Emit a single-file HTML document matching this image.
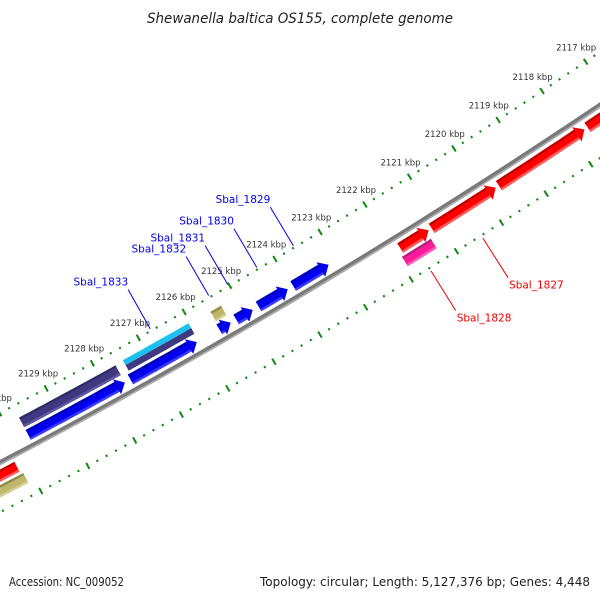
<!DOCTYPE html>
<html><head><meta charset="utf-8"><style>
html,body{margin:0;padding:0;background:#fff;}
svg{display:block;font-family:"DejaVu Sans","Liberation Sans",sans-serif;}
</style></head><body>
<svg id="map" width="600" height="600" viewBox="0 0 600 600" xmlns="http://www.w3.org/2000/svg">
<text x="300" y="23" text-anchor="middle" font-size="14" font-style="italic" fill="#222" textLength="306" lengthAdjust="spacingAndGlyphs">Shewanella baltica OS155, complete genome</text>
<text x="9" y="586" font-size="12.5" fill="#222" textLength="115" lengthAdjust="spacingAndGlyphs">Accession: NC_009052</text>
<text x="260" y="586" font-size="12.5" fill="#222" textLength="330" lengthAdjust="spacingAndGlyphs">Topology: circular; Length: 5,127,376 bp; Genes: 4,448</text>
<g id="rings"></g><g id="feats"></g><g id="labs"></g>
</svg>
<script>
// tick data (kbp)
const majorTicks = [2116,2117,2118,2119,2120,2121,2122,2123,2124,2125,2126,2127,2128,2129,2130,2131];
const tickLabels = ["2116 kbp","2117 kbp","2118 kbp","2119 kbp","2120 kbp","2121 kbp","2122 kbp","2123 kbp","2124 kbp","2125 kbp","2126 kbp","2127 kbp","2128 kbp","2129 kbp","2130 kbp","2131 kbp"];
const minorStep = 0.2;
// features: start kbp, end kbp, slot, arrowhead, color
const featStart = [2124.0,2124.76,2125.25,2125.62,2127.55,2129.75,2129.75,2127.5,2127.5,2125.6,2130.15,2130.1,2121.9,2121.2,2119.7,2117.7,2121.96];
const featEnd   = [2123.15,2124.05,2124.82,2125.3,2126.04,2127.6,2127.6,2126.0,2126.0,2125.3,2131.5,2131.5,2121.2,2119.7,2117.7,2116.3,2121.25];
const featSlot  = ["f1","f1","f1","f1","f1","f1","f2","f2b","f2a","f2","r1","r2","r1","r1","r1","r1","r2"];
const featHead  = [1,1,1,1,1,1,0,0,0,0,0,0,1,1,1,1,0];
const featColor = ["blue","blue","blue","blue","blue","blue","purple","purple","cyan","khaki","red","khaki","red","red","red","red","pink"];
const featNames = ["sbal-1829","sbal-1830","sbal-1831","sbal-1832","sbal-1833-a","gene-f","gene-g","gene-h","gene-h-cyan","gene-khaki","gene-red-left","gene-khaki-left","gene-red-r1","sbal-1827","gene-r3","gene-r4","sbal-1828"];
// gene labels
const labelText = ["Sbal_1829","Sbal_1830","Sbal_1831","Sbal_1832","Sbal_1833","Sbal_1827","Sbal_1828"];
const labelKbp  = [2123.57,2124.38,2125.02,2125.44,2126.72,2120.45,2121.6];
const labelSide = ["out","out","out","out","out","in","in"];

const NS="http://www.w3.org/2000/svg";
const P=[[0,413],[275,259],[542,91]];
function circ(a,b,c){const d=2*(a[0]*(b[1]-c[1])+b[0]*(c[1]-a[1])+c[0]*(a[1]-b[1]));
 const ux=((a[0]**2+a[1]**2)*(b[1]-c[1])+(b[0]**2+b[1]**2)*(c[1]-a[1])+(c[0]**2+c[1]**2)*(a[1]-b[1]))/d;
 const uy=((a[0]**2+a[1]**2)*(c[0]-b[0])+(b[0]**2+b[1]**2)*(a[0]-c[0])+(c[0]**2+c[1]**2)*(b[0]-a[0]))/d;return [ux,uy];}
const C=circ(P[0],P[1],P[2]);
const rOut=Math.hypot(P[1][0]-C[0],P[1][1]-C[1]);
const rB=rOut+44, rIn=rB+44;
const a24=Math.atan2(P[1][1]-C[1],P[1][0]-C[0]), a18=Math.atan2(P[2][1]-C[1],P[2][0]-C[0]);
function ang(k){return a24+(k-2124)*(a18-a24)/(2118-2124);}
function pt(k,r){const a=ang(k);return [C[0]+r*Math.cos(a),C[1]+r*Math.sin(a)];}
function el(tag,attrs,parent){const e=document.createElementNS(NS,tag);for(const k in attrs)e.setAttribute(k,attrs[k]);parent.appendChild(e);return e;}
const rings=document.getElementById('rings'),feats=document.getElementById('feats'),labs=document.getElementById('labs');
function arcPath(k0,k1,r){let s="";const n=40;for(let i=0;i<=n;i++){const p=pt(k0+(k1-k0)*i/n,r);s+=(i?"L":"M")+p[0].toFixed(1)+","+p[1].toFixed(1);}return s;}
let bb=el('path',{d:arcPath(2115,2132,rB),stroke:'#7a7a7a','stroke-width':5,fill:'none'},rings);


let bb2=el('path',{d:arcPath(2115,2132,rB+1.6),stroke:'#b0b0b0','stroke-width':1.4,fill:'none'},rings);


function drawRing(r,name,labels){
 for(let k=majorTicks[0];k<=majorTicks[majorTicks.length-1]+1e-6;k+=minorStep){
  const kk=Math.round(k*10)/10;const major=Math.abs(kk-Math.round(kk))<1e-6;
  const len=major?7:2.2;const p0=pt(kk,r-len/2),p1=pt(kk,r+len/2);
  const t=el('line',{x1:p0[0],y1:p0[1],x2:p1[0],y2:p1[1],stroke:'#118811','stroke-width':2},rings);
  
  
 }
 if(labels){majorTicks.forEach((k,i)=>{const p=pt(k,r-17);
  const tx=el('text',{x:p[0],y:p[1]+3,'text-anchor':'middle','font-size':'8.5',fill:'#333'},labs);tx.textContent=tickLabels[i];
  
  });}
}
drawRing(rOut,'outer-ruler',true);
drawRing(rIn,'inner-ruler',false);
const slots={f1:[rB-17,rB-6],f2:[rB-31,rB-20],f2a:[rB-32,rB-26.5],f2b:[rB-26.5,rB-20],r1:[rB+6,rB+17],r2:[rB+20,rB+31]};
const cols={blue:['#0000ee','#3a3aff','#0000b0'],purple:['#3f3a80','#5e58a0','#2e2a66'],cyan:['#1ec0f0','#1ec0f0','#15a8d8'],khaki:['#bdb76b','#d4cf90','#8f8a45'],red:['#ff0000','#ff5a5a','#c00000'],pink:['#ff1a9a','#ff5cbc','#b0207a']};
const GAP=0.035, HL=0.17;
function featPoly(k0,k1,r0,r1,head,stop){const rm=(r0+r1)/2;const dirK=k1>k0?1:-1;
 const kb=head?k1-dirK*HL:(stop!==undefined?stop:k1);const pts=[];const n=20;
 for(let i=0;i<=n;i++)pts.push(pt(k0+(kb-k0)*i/n,r0));
 if(head){pts.push(pt(kb,r0-3));pts.push(pt(k1,rm));pts.push(pt(kb,r1+3));}
 for(let i=n;i>=0;i--)pts.push(pt(k0+(kb-k0)*i/n,r1));
 return pts.map(p=>p[0].toFixed(1)+","+p[1].toFixed(1)).join(" ");}
featStart.forEach((ks,i)=>{const s=slots[featSlot[i]];const c=cols[featColor[i]];
 const dir=featEnd[i]>ks?1:-1;
 const k0=ks+dir*GAP, k1=featEnd[i]-dir*GAP;
 const g=el('g',{},feats);
 
 
 el('polygon',{points:featPoly(k0,k1,s[0],s[1],featHead[i]),fill:c[0]},g);
 const th=(s[1]-s[0]);
 if(featSlot[i]!=='f2a'&&featSlot[i]!=='f2b'){
  const stop=featHead[i]?k1-dir*HL:k1;
  el('polygon',{points:featPoly(k0,k1,s[1]-th*0.22,s[1],0,stop),fill:c[1]},g);
  el('polygon',{points:featPoly(k0,k1,s[0],s[0]+th*0.2,0,stop),fill:c[2]},g);
 }
});
labelText.forEach((t,i)=>{const out=labelSide[i]==='out';
 const color=out?'#0000ee':'#ee0000';
 const ra=out?rOut-2:rIn+3, rb2=out?rOut-47:rIn+50;
 const p0=pt(labelKbp[i],ra),p1=pt(labelKbp[i],rb2);
 const ln=el('line',{x1:p0[0],y1:p0[1],x2:p1[0],y2:p1[1],stroke:color,'stroke-width':1},labs);
 
 
 const tx=el('text',{x:out?p1[0]:p1[0]+1,y:out?p1[1]-4:p1[1]+11,'text-anchor':out?'end':'start','font-size':'10.5',fill:color},labs);
 tx.textContent=t;
 
 
});
</script>
</body></html>
